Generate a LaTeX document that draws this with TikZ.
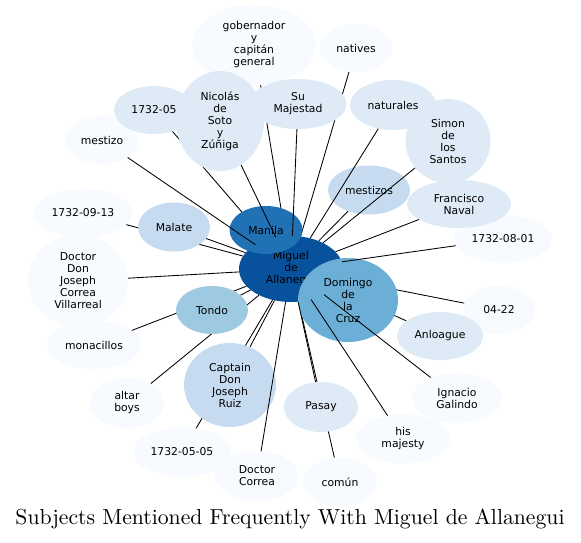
\documentclass[tikz,border=0pt]{standalone}
\usepackage{fontspec}
\newfontfamily\dv{DejaVu Sans}
\newfontfamily\titlefont{lmroman10-regular.otf}
\usetikzlibrary{shapes.geometric}
\definecolor{bA}{HTML}{F7FBFF}
\definecolor{bB}{HTML}{DEEBF7}
\definecolor{bC}{HTML}{C6DBEF}
\definecolor{bD}{HTML}{9ECAE1}
\definecolor{bE}{HTML}{6BAED6}
\definecolor{bG}{HTML}{2171B5}
\definecolor{bH}{HTML}{08519C}
\tikzset{
  ent/.style={ellipse, inner sep=0pt, align=center, text=black,
    font=\dv\fontsize{10.8}{12}\selectfont},
  rel/.style={draw=black, line width=0.85pt},
}
\newcommand\entshape[4]{\node[ent,minimum width=#3pt,minimum height=#4pt] (#1) at (#2) {};}
\newcommand\entfill[6]{\node[ent,fill=#5,minimum width=#3pt,minimum height=#4pt] (#1) at (#2) {#6};}
\begin{document}
\begin{tikzpicture}[x=1pt,y=-1pt]
\useasboundingbox (0,0) rectangle (581,542);
% skeleton (invisible shapes for clipping)
\entshape{gob}{254,45}{124}{80}
\entshape{nat}{356,48}{72}{48}
\entshape{nic}{220,121}{88}{100}
\entshape{maj}{298,104}{97}{50}
\entshape{y05}{154,110}{80}{48}
\entshape{ntr}{393,105}{86}{50}
\entshape{sim}{448,141}{85}{84}
\entshape{mzo}{102,140}{74}{48}
\entshape{mzs}{369,190}{82}{49}
\entshape{fra}{459,204}{104}{48}
\entshape{dA}{503,239}{98}{48}
\entshape{dB}{83,213}{98}{48}
\entshape{mal}{174,227}{72}{49}
\entshape{man}{266,230}{73}{48}
\entshape{mig}{291,269}{104}{66}
\entshape{dom}{348,300}{100}{84}
\entshape{ddj}{78,281}{100}{92}
\entshape{ton}{212,310}{72}{48}
\entshape{mon}{94,345}{94}{48}
\entshape{dC}{499,310}{72}{48}
\entshape{anl}{440,336}{86}{48}
\entshape{cap}{230,385}{92}{84}
\entshape{alt}{127,403}{74}{50}
\entshape{pas}{321,407}{74}{50}
\entshape{ign}{457,398}{90}{50}
\entshape{his}{403,439}{94}{49}
\entshape{dD}{182,452}{98}{49}
\entshape{dco}{257,476}{84}{49}
\entshape{com}{340,482}{74}{49}
% central node
\entfill{mig}{291,269}{104}{66}{bH}{Miguel\\de\\Allanegui}
% edges lying under other nodes
\draw[rel] (mig) -- (y05);
\draw[rel] (mig) -- (gob);
\draw[rel] (mig) -- (nat);
\draw[rel] (mig) -- (dC);
\draw[rel] (mig) -- (anl);
\draw[rel] (mig) -- (mon);
\draw[rel] (mig) -- (alt);
\draw[rel] (mig) -- (dB);
\draw[rel] (mig) -- (dD);
\draw[rel] (mig) -- (com);
% lightest nodes
\entfill{gob}{254,45}{124}{80}{bA}{gobernador\\y\\capitán\\general}
\entfill{nat}{356,48}{72}{48}{bA}{natives}
\entfill{mzo}{102,140}{74}{48}{bA}{mestizo}
\entfill{dA}{503,239}{98}{48}{bA}{1732-08-01}
\entfill{dB}{83,213}{98}{48}{bA}{1732-09-13}
\entfill{ddj}{78,281}{100}{92}{bA}{Doctor\\Don\\Joseph\\Correa\\Villarreal}
\entfill{mon}{94,345}{94}{48}{bA}{monacillos}
\entfill{dC}{499,310}{72}{48}{bA}{04-22}
\entfill{alt}{127,403}{74}{50}{bA}{altar\\boys}
\entfill{ign}{457,398}{90}{50}{bA}{Ignacio\\Galindo}
\entfill{his}{403,439}{94}{49}{bA}{his\\majesty}
\entfill{dD}{182,452}{98}{49}{bA}{1732-05-05}
\entfill{dco}{257,476}{84}{49}{bA}{Doctor\\Correa}
\entfill{com}{340,482}{74}{49}{bA}{común}
% other nodes
\entfill{y05}{154,110}{80}{48}{bB}{1732-05}
\entfill{maj}{298,104}{97}{50}{bB}{Su\\Majestad}
\entfill{nic}{220,121}{88}{100}{bB}{Nicolás\\de\\Soto\\y\\Zúñiga}
\entfill{ntr}{393,105}{86}{50}{bB}{naturales}
\entfill{sim}{448,141}{85}{84}{bB}{Simon\\de\\los\\Santos}
\entfill{fra}{459,204}{104}{48}{bB}{Francisco\\Naval}
\entfill{anl}{440,336}{86}{48}{bB}{Anloague}
\entfill{pas}{321,407}{74}{50}{bB}{Pasay}
\entfill{mzs}{369,190}{82}{49}{bC}{mestizos}
\entfill{mal}{174,227}{72}{49}{bC}{Malate}
\entfill{cap}{230,385}{92}{84}{bC}{Captain\\Don\\Joseph\\Ruiz}
\entfill{ton}{212,310}{72}{48}{bD}{Tondo}
\entfill{man}{266,230}{73}{48}{bG}{Manila}
\entfill{dom}{348,300}{100}{84}{bE}{Domingo\\de\\la\\Cruz}
% visible edges
\draw[rel] (mig) -- (mzo);
\draw[rel] (mig) -- (nic);
\draw[rel] (mig) -- (maj);
\draw[rel] (mig) -- (ntr);
\draw[rel] (mig) -- (sim);
\draw[rel] (mig) -- (mzs);
\draw[rel] (mig) -- (fra);
\draw[rel] (mig) -- (dA);
\draw[rel] (mig) -- (mal);
\draw[rel] (mig) -- (ddj);
\draw[rel] (mig) -- (ton);
\draw[rel] (mig) -- (cap);
\draw[rel] (mig) -- (pas);
\draw[rel] (mig) -- (dco);
\draw[rel] (mig) -- (his);
\draw[rel] (mig) -- (ign);
% title
\node[anchor=base, inner sep=0pt, font=\titlefont\fontsize{21.7}{24}\selectfont] (title) at (290,524) {Subjects Mentioned Frequently With Miguel de Allanegui};
\end{tikzpicture}
\end{document}
